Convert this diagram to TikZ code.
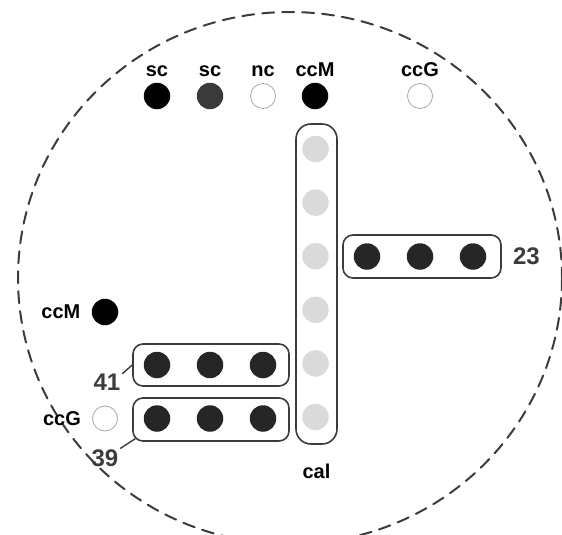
\documentclass[tikz,border=0pt]{standalone}
\usepackage{fontspec}
\setmainfont{Liberation Sans}
\usetikzlibrary{positioning}
\definecolor{welldark}{RGB}{38,38,38}
\definecolor{scgray}{RGB}{58,58,58}
\definecolor{calgray}{RGB}{218,218,218}
\definecolor{rimgray}{RGB}{60,60,60}

\begin{document}
\begin{tikzpicture}[line cap=round,line join=round,x=1pt,y=-1pt,
    dot/.style={circle,draw=none,minimum size=26.5pt,inner sep=0pt},
    fulldot/.style={dot,fill=black},
    scdot/.style={dot,fill=scgray},
    darkdot/.style={dot,fill=welldark},
    emptydot/.style={dot,draw=gray!70,line width=0.8pt,fill=white,minimum size=25pt},
    caldot/.style={dot,fill=calgray},
    lbl/.style={inner sep=0pt,font=\fontsize{20}{20}\selectfont\bfseries},
    num/.style={inner sep=0pt,text=rimgray,font=\fontsize{24}{24}\selectfont\bfseries},
    wellbox/.style={draw=rimgray,rounded corners=10pt,line width=1.6pt,inner sep=0pt},
    leader/.style={draw=rimgray,line width=1.4pt}]
    \useasboundingbox (0,0) rectangle (562,535);
    % plate rim
    \draw[rimgray,line width=2pt,dash pattern=on 12pt off 8pt] (290,278) ellipse [x radius=272, y radius=266];
    % control spots along the top
    \foreach \n/\x/\s/\t in {sc1/157/fulldot/sc, sc2/210/scdot/sc, nc/263/emptydot/nc, ccMt/315/fulldot/ccM, ccGt/420/emptydot/ccG}
    {
        \node[\s] (\n) at (\x,96) {};
        \node[lbl,above=6pt of \n] (\n l) {\t};
    }
    % calibration column
    \node[wellbox,rounded corners=15pt,minimum width=41pt,minimum height=320pt] (cal) at (316.5,284) {};
    \foreach \i in {0,...,5}
    \node[caldot] (c\i) at (315.5,149+53.6*\i) {};
    \node[lbl,below=19pt of cal] (call) {cal};
    % sample 23
    \node[wellbox,minimum width=158pt,minimum height=43pt] (b23) at (422,256.5) {};
    \foreach \x [count=\i] in {367,420,473}
    \node[darkdot] (s23\i) at (\x,256.5) {};
    \node[num,right=11pt of b23] (n23) {23};
    % samples 41 and 39
    \node[wellbox,minimum width=156pt,minimum height=42pt] (b41) at (211,365) {};
    \node[wellbox,minimum width=156pt,minimum height=43pt] (b39) at (211,419.5) {};
    \foreach \x [count=\i] in {157,210,263}
    {
        \node[darkdot] (s41\i) at (\x,365) {};
        \node[darkdot] (s39\i) at (\x,418.5) {};
    }
    \node[num] (n41) at (107,382) {41};
    \node[num] (n39) at (105,458) {39};
    \draw[leader] ([xshift=2pt]n41.north east) -- (b41.west);
    \draw[leader] ([xshift=2pt,yshift=1pt]n39.north east) -- ([xshift=3pt,yshift=3pt]b39.south west);
    % loose control spots on the left
    \node[fulldot] (ccMl) at (105,312) {};
    \node[lbl,left=11pt of ccMl] (ccMll) {ccM};
    \node[emptydot] (ccGl) at (105,418.5) {};
    \node[lbl,left=11pt of ccGl] (ccGll) {ccG};
\end{tikzpicture}
\end{document}
